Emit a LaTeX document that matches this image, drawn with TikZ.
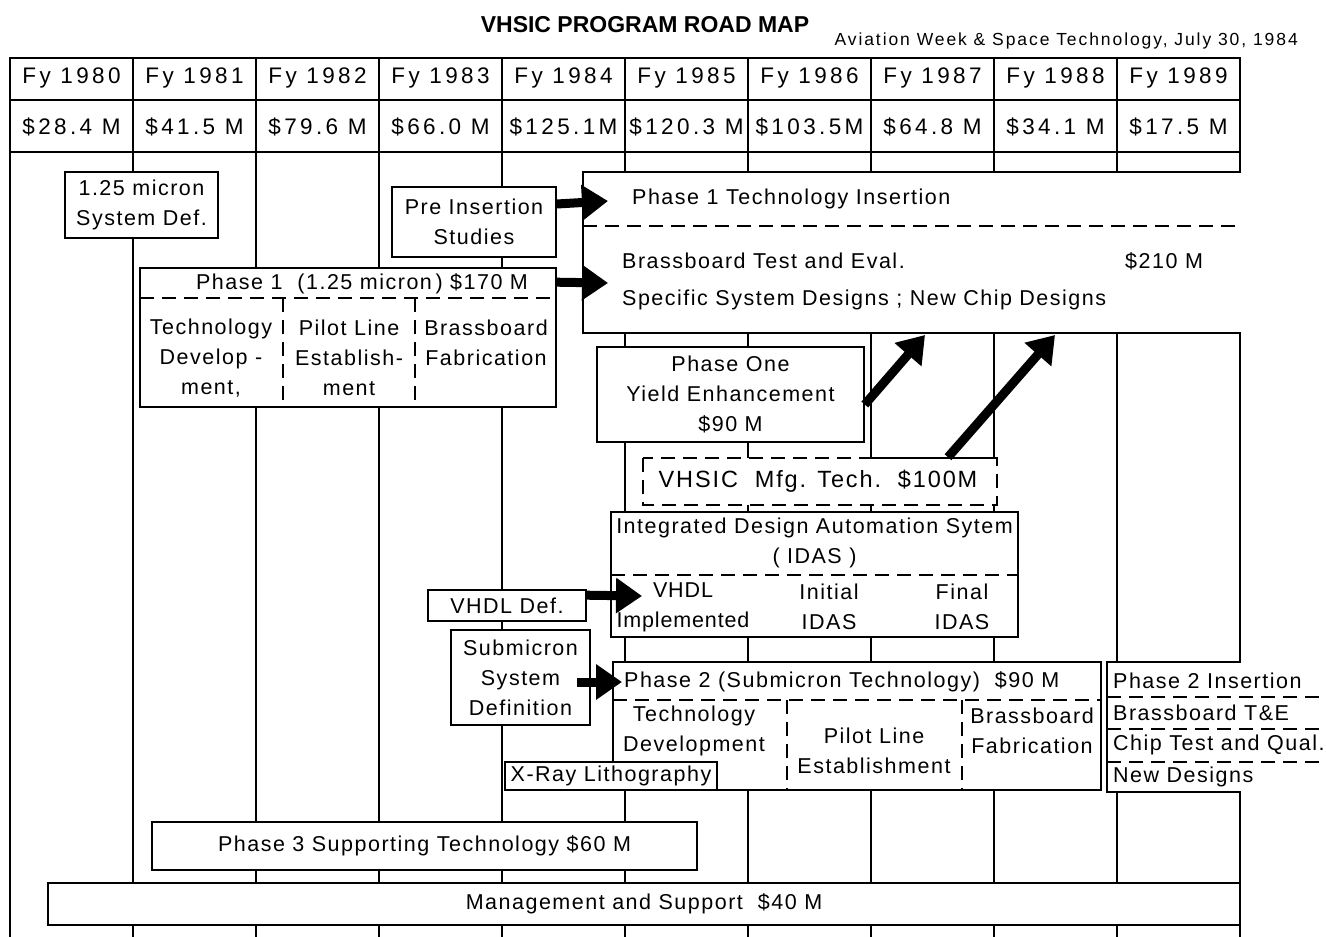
\documentclass[tikz,border=0pt]{standalone}
\usepackage{fontspec}
\setmainfont{Liberation Sans}
\usetikzlibrary{arrows.meta, positioning, calc}
\newcommand{\bodyfont}{\fontsize{21.5}{30}\selectfont\addfontfeature{LetterSpace=7}}
\newcommand{\cellfont}{\fontsize{22.5}{26}\selectfont\addfontfeature{LetterSpace=15}}
\tikzset{
  boxline/.style={line width=1.6pt},
  box/.style={draw, boxline, fill=white, inner sep=0pt, align=center, font=\bodyfont},
  divline/.style={line width=1.6pt, dash pattern=on 14pt off 8pt},
  gridline/.style={line width=1.4pt},
  fatarrow/.style={-{Triangle[length=26pt,width=34pt]}, line width=9pt},
  lbl/.style={inner sep=0pt, align=center, font=\bodyfont},
  cell/.style={inner sep=0pt, font=\cellfont}
}

\begin{document}
\begin{tikzpicture}[x=1pt, y=-1pt]
\useasboundingbox (0,0) rectangle (1326,937);

% title
\node[font=\fontsize{23}{26}\selectfont\bfseries] (title) at (645,25) {VHSIC PROGRAM ROAD MAP};
\node[anchor=east, inner sep=0pt, font=\fontsize{17.5}{20}\selectfont\addfontfeature{LetterSpace=11}] (source) at (1298,41) {Aviation Week \& Space Technology, July 30, 1984};

% year table and grid
\draw[gridline] (10,58) rectangle (1240,152);
\draw[gridline] (10,100) -- (1240,100);
\foreach \i in {1,...,9}
  \draw[gridline] ({10+123*\i},58) -- ({10+123*\i},937);
\draw[gridline] (10,152) -- (10,937);
\draw[gridline] (1240,152) -- (1240,937);
\foreach \yr/\amt [count=\i from 0] in {1980/\$28.4 M, 1981/\$41.5 M, 1982/\$79.6 M, 1983/\$66.0 M, 1984/\$125.1M, 1985/\$120.3 M, 1986/\$103.5M, 1987/\$64.8 M, 1988/\$34.1 M, 1989/\$17.5 M}
{
  \node[cell] (fy\yr) at ({71.5+123*\i},78) {Fy \yr};
  \node[cell] (amt\yr) at ({71.5+123*\i},127) {\amt};
}

% phase 1 technology insertion (open to the right)
\draw[boxline, fill=white] (1241,172) -- (583,172) -- (583,333) -- (1241,333);
\draw[divline] (583,226) -- (1240,226);
\node[lbl, anchor=west] (tiname) at (632,199) {Phase 1 Technology Insertion};
\node[lbl, anchor=west] (titest) at (622,261) {Brassboard Test and Eval.};
\node[lbl, anchor=west] (ticost) at (1125,261) {\$210 M};
\node[lbl, anchor=west] (tidesign) at (622,300) {Specific System Designs ; New Chip Designs};
\coordinate (tipA) at (608,201);
\coordinate (tipB) at (608,283);
\coordinate (tipC) at (925,335);
\coordinate (tipD) at (1055,335);
\coordinate (tipE) at (642,596);

% phase 1 (1.25 micron)
\node[box, minimum width=416, minimum height=139] (phaseone) at (348,337.5) {};
\draw[divline] (140,298) -- (556,298);
\draw[divline] (283,298) -- (283,407);
\draw[divline] (415,298) -- (415,407);
\node[lbl] (ponename) at (362,284) {Phase 1\ \ (1.25 micron\,) \$170 M};
\node[lbl] (ponetech) at (211,358) {Technology\\Develop -\\ment,};
\node[lbl] (ponepilot) at (349,358) {Pilot Line\\Establish-\\ment};
\node[lbl] (poneboard) at (486,343) {Brassboard\\Fabrication};

% small boxes
\node[box, minimum width=153, minimum height=66] (sysdef) at (141.5,205) {1.25 micron\\System Def.};
\node[box, minimum width=164, minimum height=70] (preins) at (474,222) {Pre Insertion\\Studies};
\node[box, minimum width=267, minimum height=95] (yield) at (730.5,394.5) {Phase One\\Yield Enhancement\\\$90 M};

% manufacturing technology
\node[box, draw=none, minimum width=354, minimum height=47, font=\fontsize{23.5}{30}\selectfont\addfontfeature{LetterSpace=8}] (mfgtech) at (818,481.5) {VHSIC\ \ Mfg. Tech.\ \ \$100M};
\draw[divline] (643,458) rectangle (997,505);
\draw[boxline] (873,458) -- (997,458);

% IDAS
\node[box, minimum width=407, minimum height=125] (idas) at (814.5,574.5) {};
\draw[divline] (611,575) -- (1018,575);
\node[lbl] (idasname) at (814.5,542.5) {Integrated Design Automation Sytem\\( IDAS )};
\node[lbl, font=\fontsize{21.5}{30}\selectfont\addfontfeature{LetterSpace=4}] (idasvhdl) at (683,607) {VHDL\\Implemented};
\node[lbl] (idasinit) at (829,607) {Initial\\IDAS};
\node[lbl] (idasfinal) at (962,607) {Final\\IDAS};

\node[box, minimum width=158, minimum height=31] (vhdldef) at (507,605.5) {VHDL Def.};
\node[box, minimum width=139, minimum height=95] (submicron) at (520.5,677.5) {Submicron\\System\\Definition};

% phase 2
\node[box, minimum width=488, minimum height=128] (phasetwo) at (857,726) {};
\draw[divline] (613,700) -- (1101,700);
\draw[divline] (787,700) -- (787,790);
\draw[divline] (962,700) -- (962,790);
\node[lbl, anchor=west] (ptwoname) at (624,682) {Phase 2 (Submicron Technology)\ \ \$90 M};
\node[lbl] (ptwotech) at (694,731) {Technology\\Development};
\node[lbl] (ptwopilot) at (874,751) {Pilot Line\\Establishment};
\node[lbl] (ptwoboard) at (1032,731) {Brassboard\\Fabrication};
\node[box, minimum width=212, minimum height=28] (xray) at (611,776) {X-Ray Lithography};

% phase 2 insertion (open to the right)
\draw[boxline, fill=white] (1241,662) -- (1107,662) -- (1107,792) -- (1241,792);
\foreach \y in {697,729,762}
  \draw[divline] (1107,\y) -- (1326,\y);
\node[lbl, anchor=west] (pinsname) at (1113,681) {Phase 2 Insertion};
\node[lbl, anchor=west] (pinsboard) at (1113,713) {Brassboard T\&E};
\node[lbl, anchor=west] (pinschip) at (1113,745) {Chip Test and Qual.};
\node[lbl, anchor=west] (pinsnew) at (1113,777) {New Designs};

% bottom bars
\node[box, minimum width=545, minimum height=48] (phase3) at (424.5,846) {Phase 3 Supporting Technology \$60 M};
\node[box, minimum width=1192, minimum height=42] (mgmt) at (644,904) {Management and Support\ \ \$40 M};

% arrows
\draw[fatarrow] ([yshift=18pt]preins.east) -- (tipA);
\draw[fatarrow] ([yshift=-15pt]phaseone.north east) -- (tipB);
\draw[fatarrow] ([yshift=-10pt]yield.east) -- (tipC);
\draw[fatarrow] ([xshift=130pt]mfgtech.north) -- (tipD);
\draw[fatarrow] ([yshift=-6pt]vhdldef.north east) -- (tipE);
\draw[fatarrow] ([xshift=-14pt, yshift=-4.5pt]submicron.east) -- ([xshift=-2pt]ptwoname.west);
\end{tikzpicture}
\end{document}
